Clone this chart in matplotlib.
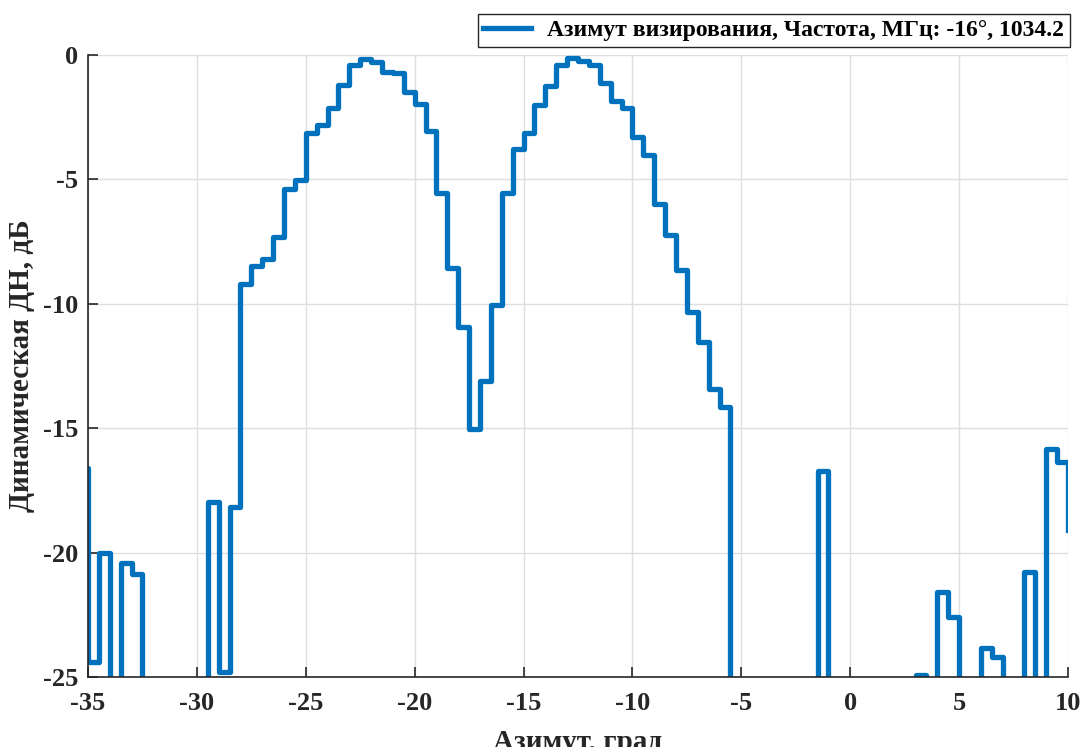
import numpy as np
import matplotlib
matplotlib.use('Agg')
import matplotlib.pyplot as plt

# azimuth grid (deg) and dynamic pattern (dB); LOW = below the -25 dB floor
LOW = -40
az_step = 0.5
azimuth = np.arange(-35.5, 10.0 + az_step / 2, az_step)
pattern_db = [
    -16.6, -24.4, -20.0, LOW, -20.4, -20.85, LOW, LOW, LOW, LOW,          # -35.5 .. -31
    LOW, LOW, -17.95, -24.8, -18.15, -9.2, -8.47, -8.2, -7.3, -5.37,      # -30.5 .. -26
    -5.01, -3.13, -2.81, -2.12, -1.2, -0.4, -0.16, -0.27, -0.67, -0.71,   # -25.5 .. -21
    -1.5, -1.98, -3.05, -5.53, -8.55, -10.95, -15.05, -13.1, -10.05, -5.53,  # -20.5 .. -16
    -3.78, -3.13, -2.0, -1.23, -0.4, -0.13, -0.23, -0.4, -1.13, -1.85,    # -15.5 .. -11
    -2.12, -3.28, -4.02, -5.98, -7.23, -8.64, -10.31, -11.52, -13.42, -14.13,  # -10.5 .. -6
    LOW, LOW, LOW, LOW, LOW, LOW, LOW, LOW, -16.72, LOW,                  # -5.5 .. -1
    LOW, LOW, LOW, LOW, LOW, LOW, LOW, -24.9, LOW,                        # -0.5 .. 3.5
    -21.6, -22.6, LOW, LOW, -23.83, -24.18, LOW, LOW, -20.78, LOW,        # 4 .. 8.5
    -15.84, -16.36, -19.1,                                                # 9 .. 10
]
legend_label = 'Азимут визирования, Частота, МГц: -16°, 1034.2'
x_ticks = [-35, -30, -25, -20, -15, -10, -5, 0, 5, 10]
y_ticks = [-25, -20, -15, -10, -5, 0]

plt.rcParams['font.family'] = ['Liberation Serif', 'DejaVu Serif']
plt.rcParams['font.weight'] = 'bold'
plt.rcParams['axes.unicode_minus'] = False

fig = plt.figure(figsize=(10.81, 7.47), dpi=100)
ax = fig.add_axes([88 / 1081, 1 - 677 / 747, 980 / 1081, 622 / 747])

ax.step(azimuth, pattern_db, where='post', color='#0072BD', linewidth=3.8,
        label=legend_label)

ax.set_xlim(-35, 10)
ax.set_ylim(-25, 0)
ax.set_xticks(x_ticks)
ax.set_yticks(y_ticks)
ax.grid(True, color='#dedede', linewidth=1.0)
ax.set_axisbelow(True)
for s in ['top', 'right']:
    ax.spines[s].set_visible(False)
for s in ['left', 'bottom']:
    ax.spines[s].set_linewidth(1.2)
    ax.spines[s].set_color('#262626')
ax.tick_params(direction='in', length=7, width=1.2, colors='#262626',
               labelsize=19, pad=7)
ax.tick_params(axis='x', pad=11)
for lab in ax.get_xticklabels() + ax.get_yticklabels():
    lab.set_fontweight('bold')

ax.set_xlabel('Азимут, град', fontsize=21, fontweight='bold', color='#262626', labelpad=10)
ax.set_ylabel('Динамическая ДН, дБ', fontsize=21, fontweight='bold', color='#262626', labelpad=6)

leg = ax.legend(loc='upper right', bbox_to_anchor=(1070 / 1081, 1 - 14 / 747),
                bbox_transform=fig.transFigure, fancybox=False, framealpha=1,
                edgecolor='#262626', fontsize=17, handlelength=2.0,
                borderpad=0.25, handletextpad=0.7, borderaxespad=0)
leg.get_frame().set_linewidth(1.0)
for t in leg.get_texts():
    t.set_fontweight('bold')

fig.savefig('out.png', dpi=100)
